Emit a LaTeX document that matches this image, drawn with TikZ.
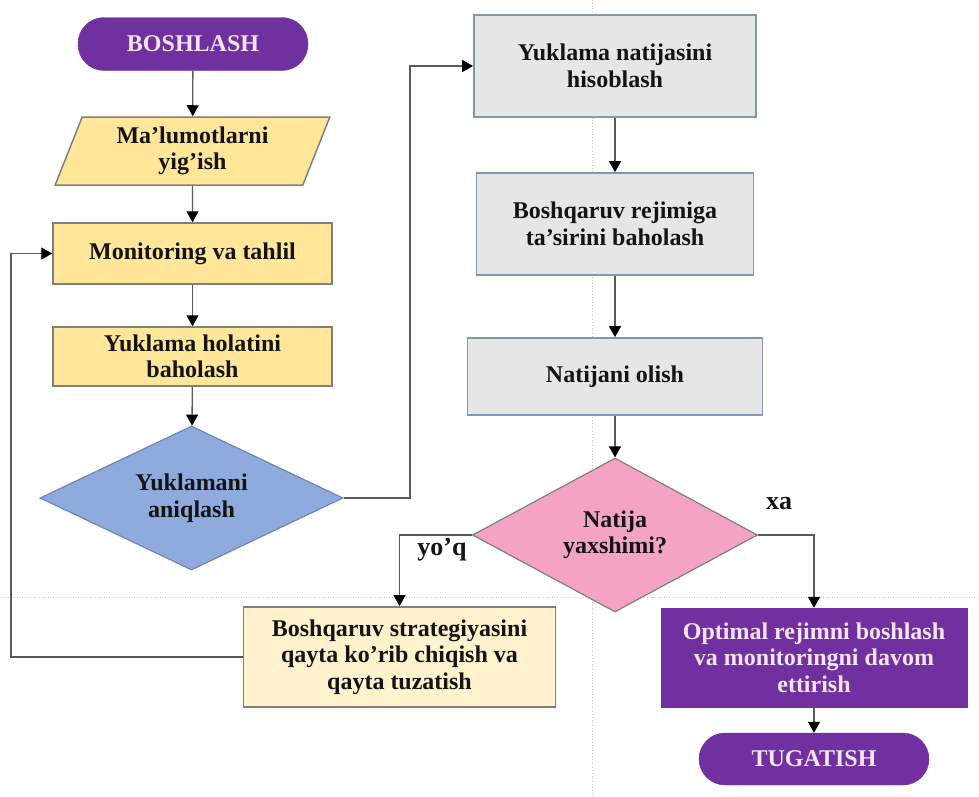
\documentclass[tikz,border=0pt]{standalone}
\usepackage{fontspec}
\setmainfont{Liberation Serif}
\usetikzlibrary{shapes.geometric,arrows.meta}
\definecolor{purp}{HTML}{7030A0}
\definecolor{purptext}{HTML}{F7E4F7}
\definecolor{gold}{HTML}{FFE699}
\definecolor{cream}{HTML}{FFF2CC}
\definecolor{bluefill}{HTML}{8FAADC}
\definecolor{blueedge}{HTML}{6F86B5}
\definecolor{grayfill}{HTML}{E7E6E6}
\definecolor{grayedge}{HTML}{8497B0}
\definecolor{pinkfill}{HTML}{F4A3C4}
\definecolor{edge}{HTML}{7F7F7F}
\definecolor{wire}{HTML}{5A5A5A}
\definecolor{guide}{HTML}{C9C9C9}
\definecolor{ink}{HTML}{141414}
\tikzset{
  txt/.style={align=center, inner sep=0pt, font=\bfseries\fontsize{24}{26.5}\selectfont, text=ink},
  termbox/.style={txt, draw=purp, fill=purp, text=purptext, rounded corners=26pt},
  yellowbox/.style={txt, draw=edge, line width=1.5pt, fill=gold},
  graybox/.style={txt, draw=grayedge, line width=1.8pt, fill=grayfill},
  creambox/.style={txt, draw=edge, line width=1.8pt, fill=cream},
  purpbox/.style={txt, draw=purp, fill=purp, text=purptext},
  decide/.style={txt, shape=diamond, shape aspect=2, line width=1.2pt},
  lbl/.style={inner sep=0pt, font=\bfseries\fontsize{26}{28}\selectfont, text=ink},
  wired/.style={draw=wire, line width=1.3pt, -{Triangle[width=12pt,length=11pt,color=black]}}
}
\begin{document}
\begin{tikzpicture}[x=1pt,y=-1pt]
\useasboundingbox (0,0) rectangle (979,796);
\fill[white] (0,0) rectangle (979,796);
% faint page guides
\draw[guide, dotted, line width=0.8pt] (592,0) -- (592,796);
\draw[guide, dotted, line width=0.8pt] (0,597) -- (979,597);

\node[termbox, minimum width=230pt, minimum height=53pt] (start) at (193,44) {BOSHLASH};
\node[yellowbox, shape=trapezium, trapezium left angle=69, trapezium right angle=111,
      trapezium stretches=true, minimum width=275pt, minimum height=68pt] (data) at (192.5,151) {Ma’lumotlarni\\yig’ish};
\node[yellowbox, minimum width=279pt, minimum height=61pt] (mon) at (192.5,253.5) {Monitoring va tahlil};
\node[yellowbox, minimum width=279pt, minimum height=59pt] (hol) at (192.5,356.5) {Yuklama holatini\\baholash};
\node[decide, draw=blueedge, fill=bluefill, minimum width=303pt, minimum height=144pt] (dia1) at (191.5,498) {Yuklamani\\aniqlash};

\node[graybox, minimum width=282pt, minimum height=102pt] (box1) at (615,66) {Yuklama natijasini\\hisoblash};
\node[graybox, minimum width=277pt, minimum height=102pt] (box2) at (615,224) {Boshqaruv rejimiga\\ta’sirini baholash};
\node[graybox, minimum width=295pt, minimum height=77pt] (box3) at (615,376.5) {Natijani olish};
\node[decide, draw=edge, fill=pinkfill, minimum width=285pt, minimum height=154pt] (dia2) at (615,535) {Natija\\yaxshimi?};

\node[creambox, minimum width=312pt, minimum height=100pt] (strat) at (399.5,657) {Boshqaruv strategiyasini\\qayta ko’rib chiqish va\\qayta tuzatish};
\node[purpbox, minimum width=306pt, minimum height=99pt] (opt) at (814,657.5) {Optimal rejimni boshlash\\va monitoringni davom\\ettirish};
\node[termbox, minimum width=230pt, minimum height=52pt] (fin) at (814,759) {TUGATISH};

\node[lbl] (yoq) at (442,550) {yo’q};
\node[lbl] (xa) at (779,504) {xa};

\coordinate (j1) at (410,498);
\coordinate (j2) at (11,657);

\draw[wired] (start) -- (data);
\draw[wired] (data) -- (mon);
\draw[wired] (mon) -- (hol);
\draw[wired] (hol) -- (dia1);
\draw[wired] (dia1.east) -- (j1) |- (box1.west);
\draw[wired] (box1) -- (box2);
\draw[wired] (box2) -- (box3);
\draw[wired] (box3) -- (dia2);
\draw[wired] (dia2.west) -| (strat.north);
\draw[wired] (dia2.east) -| (opt.north);
\draw[wired] (opt) -- (fin);
\draw[wired] (strat.west) -- (j2) |- (mon.west);
\end{tikzpicture}
\end{document}
